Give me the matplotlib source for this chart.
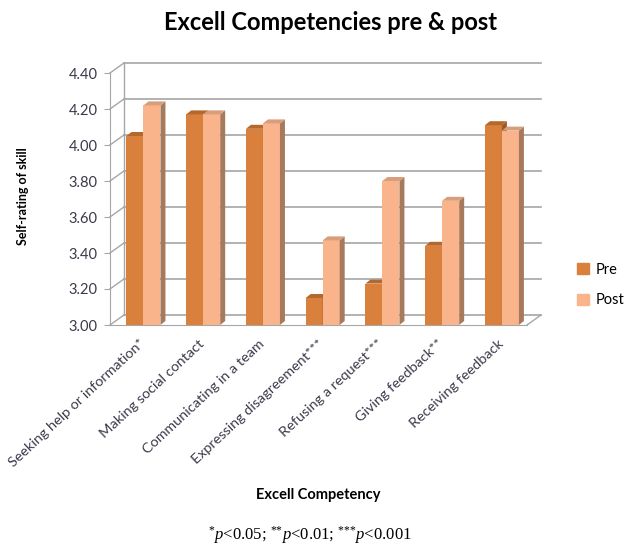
import matplotlib.pyplot as plt
from matplotlib.patches import Polygon, Patch
import numpy as np

plt.rcParams['font.family'] = ['Lato', 'DejaVu Sans']
plt.rcParams['mathtext.fontset'] = 'custom'
plt.rcParams['mathtext.rm'] = 'Liberation Serif'
plt.rcParams['mathtext.it'] = 'Liberation Serif:italic'

categories = ['Seeking help or information*', 'Making social contact', 'Communicating in a team',
              'Expressing disagreement***', 'Refusing a request***', 'Giving feedback**',
              'Receiving feedback']
pre = [4.05, 4.17, 4.09, 3.15, 3.23, 3.44, 4.11]
post = [4.22, 4.17, 4.12, 3.47, 3.80, 3.69, 4.08]
yticks = [3.00, 3.20, 3.40, 3.60, 3.80, 4.00, 4.20, 4.40]

pre_col = {'front': '#d9813c', 'side': '#9a5a27', 'top': '#b5682c'}
post_col = {'front': '#fab48c', 'side': '#a87a5d', 'top': '#d89d7b'}
grid_col = '#a6a6a6'
text_col = '#3a3a4a'

fig = plt.figure(figsize=(6.3, 5.46), dpi=100)
ax = fig.add_axes([110 / 630, 1 - 325 / 546, 417 / 630, 252 / 546])
x0, x1 = -0.56, 6.42
ymin, ymax = 3.0, 4.4
ax.set_xlim(x0, x1)
ax.set_ylim(ymin, ymax)

# px -> data units
px_x = (x1 - x0) / 417
px_y = (ymax - ymin) / 252
wall_dx, wall_dy = 14 * px_x, 10 * px_y
bar_dx, bar_dy = 5 * px_x, 4 * px_y
w = 17 * px_x

# back wall, left wall, floor edge
for t in yticks:
    ax.plot([x0 + wall_dx, x1 + wall_dx], [t + wall_dy, t + wall_dy], color=grid_col, lw=1.2, clip_on=False, zorder=1)
    ax.plot([x0, x0 + wall_dx], [t, t + wall_dy], color=grid_col, lw=1.0, clip_on=False, zorder=1)
ax.plot([x0 + wall_dx, x0 + wall_dx], [ymin + wall_dy, ymax + wall_dy], color=grid_col, lw=1.0, clip_on=False, zorder=1)
ax.plot([x1, x1 + wall_dx], [ymin, ymin + wall_dy], color=grid_col, lw=1.0, clip_on=False, zorder=1)

def bar3d(left, val, col, z):
    ax.bar(left, val - ymin, width=w, bottom=ymin, align='edge', color=col['front'], zorder=z, linewidth=0)
    side = [(left + w, ymin), (left + w + bar_dx, ymin + bar_dy), (left + w + bar_dx, val + bar_dy), (left + w, val)]
    top = [(left, val), (left + bar_dx, val + bar_dy), (left + w + bar_dx, val + bar_dy), (left + w, val)]
    ax.add_patch(Polygon(side, closed=True, color=col['side'], zorder=z, lw=0, clip_on=False))
    ax.add_patch(Polygon(top, closed=True, color=col['top'], zorder=z, lw=0, clip_on=False))

z = 3
for i in range(len(categories)):
    bar3d(i - w, pre[i], pre_col, z)
    z += 1
    bar3d(i, post[i], post_col, z)
    z += 1

for s in ['top', 'right']:
    ax.spines[s].set_visible(False)
ax.spines['left'].set_color(grid_col)
ax.spines['bottom'].set_color(grid_col)
ax.set_yticks(yticks)
ax.set_yticklabels(['%.2f' % t for t in yticks], fontsize=10.5, color=text_col)
ax.tick_params(axis='y', color=grid_col, length=4, pad=5)

ax.set_xticks(np.arange(len(categories)) - 0.08)
ax.set_xticklabels(categories, rotation=43, ha='right', rotation_mode='anchor', fontsize=10.4, color=text_col)
ax.tick_params(axis='x', length=0, pad=9)

fig.text(0.524, 0.958, 'Excell Competencies pre & post', ha='center', va='center', fontsize=17, fontweight='bold')
fig.text(0.037, 0.64, 'Self-rating of skill', rotation=90, ha='center', va='center', fontsize=9, fontweight='bold')
fig.text(0.505, 0.093, 'Excell Competency', ha='center', va='center', fontsize=10.5, fontweight='bold')
fig.text(0.492, 0.02, r'$^{\text{*}}\mathit{p}$<0.05; $^{\text{**}}\mathit{p}$<0.01; $^{\text{***}}\mathit{p}$<0.001',
         ha='center', va='center', fontsize=12, family='Liberation Serif')

handles = [Patch(color=pre_col['front'], label='Pre'), Patch(color=post_col['front'], label='Post')]
fig.legend(handles=handles, loc='center left', bbox_to_anchor=(0.895, 0.478), frameon=False,
           handlelength=0.8, handleheight=0.8, handletextpad=0.5, labelspacing=1.15, fontsize=10.5)

fig.savefig('out.png', dpi=100)
